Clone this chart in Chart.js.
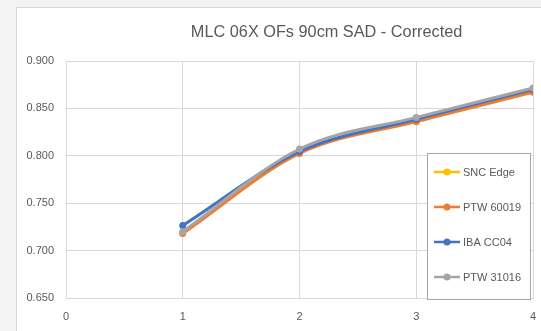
<!DOCTYPE html>
<html>
<head>
<meta charset="utf-8">
<script src="https://cdn.jsdelivr.net/npm/chart.js@4/dist/chart.umd.min.js"></script>
<style>
  html, body { margin: 0; padding: 0; background: #f3f3f3; }
  #frame { position: absolute; left: 16px; top: 7px; width: 525px; height: 324px;
           background: #ffffff; border-left: 1px solid #d9d9d9; border-top: 1px solid #d9d9d9; box-sizing: border-box; }
  #frame canvas { position: absolute; left: 0; top: 0; }
</style>
</head>
<body>
<div id="frame"><canvas id="c" width="524" height="323"></canvas></div>
<script>
const titleText = 'MLC 06X OFs 90cm SAD - Corrected';
const fieldSizes = [1, 2, 3, 4];
const seriesNames = ['SNC Edge', 'PTW 60019', 'IBA CC04', 'PTW 31016'];
const sncEdge  = [0.719, 0.803, 0.837, 0.868];
const ptw60019 = [0.718, 0.8025, 0.836, 0.867];
const ibaCC04  = [0.7265, 0.8045, 0.8385, 0.870];
const ptw31016 = [0.720, 0.8072, 0.8405, 0.8715];
const seriesColors = ['#FFC000', '#ED7D31', '#4472C4', '#A5A5A5'];
const yTicks = [0.650, 0.700, 0.750, 0.800, 0.850, 0.900];
const xTicks = [0, 1, 2, 3, 4];

const seriesValues = [sncEdge, ptw60019, ibaCC04, ptw31016];
const datasets = seriesNames.map((name, i) => ({
  label: name,
  data: fieldSizes.map((x, j) => ({ x: x, y: seriesValues[i][j] })),
  borderColor: seriesColors[i],
  backgroundColor: seriesColors[i],
  borderWidth: 3,
  pointRadius: 3.5,
  pointBorderWidth: 0,
  tension: 0.4,
  cubicInterpolationMode: 'monotone',
  order: seriesNames.length - i
}));

const FONT = '"Liberation Sans", Arial, sans-serif';
const TEXT = '#595959';

// Title and boxed legend drawn on the canvas
const decor = {
  id: 'decor',
  afterDraw(chart) {
    const ctx = chart.ctx;
    const area = chart.chartArea;
    ctx.save();
    ctx.fillStyle = TEXT;
    ctx.font = '16.3px ' + FONT;
    ctx.textAlign = 'center';
    ctx.textBaseline = 'middle';
    ctx.fillText(titleText, area.left + area.width * 0.558, 25);

    // legend box in the lower right of the plot
    const bx = area.right - 106, by = area.bottom - 145, bw = 103, bh = 146;
    ctx.fillStyle = '#ffffff';
    ctx.fillRect(bx, by, bw, bh);
    ctx.strokeStyle = '#a6a6a6';
    ctx.lineWidth = 1;
    ctx.strokeRect(bx + 0.5, by + 0.5, bw, bh);
    ctx.font = '11px ' + FONT;
    ctx.textAlign = 'left';
    chart.data.datasets.forEach((ds, i) => {
      const y = by + 19 + i * 35;
      ctx.strokeStyle = ds.borderColor;
      ctx.lineWidth = 2.5;
      ctx.beginPath();
      ctx.moveTo(bx + 7, y);
      ctx.lineTo(bx + 33, y);
      ctx.stroke();
      ctx.fillStyle = ds.borderColor;
      ctx.beginPath();
      ctx.arc(bx + 20, y, 3.5, 0, Math.PI * 2);
      ctx.fill();
      ctx.fillStyle = TEXT;
      ctx.fillText(ds.label, bx + 36, y + 0.5);
    });
    ctx.restore();
  }
};

new Chart(document.getElementById('c'), {
  type: 'line',
  data: { datasets: datasets },
  options: {
    responsive: false,
    animation: false,
    layout: { padding: { top: 53, right: 8, left: 0, bottom: 0 } },
    plugins: { legend: { display: false }, title: { display: false }, tooltip: { enabled: false } },
    scales: {
      x: {
        type: 'linear',
        min: xTicks[0], max: xTicks[xTicks.length - 1],
        afterBuildTicks: (axis) => { axis.ticks = xTicks.map(v => ({ value: v })); },
        afterFit: (axis) => { axis.height = 33; axis.paddingLeft = 0; axis.paddingRight = 0; },
        grid: { color: '#d9d9d9', drawTicks: false },
        border: { color: '#d9d9d9' },
        ticks: { color: TEXT, font: { family: FONT, size: 11 }, padding: 12, maxRotation: 0 }
      },
      y: {
        min: yTicks[0], max: yTicks[yTicks.length - 1],
        afterBuildTicks: (axis) => { axis.ticks = yTicks.map(v => ({ value: v })); },
        afterFit: (axis) => { axis.width = 49; },
        grid: { color: '#d9d9d9', drawTicks: false },
        border: { display: false },
        ticks: { color: TEXT, font: { family: FONT, size: 11 }, padding: 12,
                 callback: (v) => Number(v).toFixed(3) }
      }
    }
  },
  plugins: [decor]
});
</script>
</body>
</html>
